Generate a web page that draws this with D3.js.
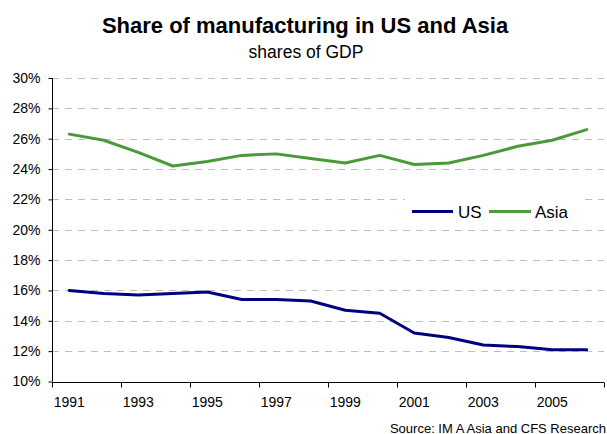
<!DOCTYPE html>
<html>
<head>
<meta charset="utf-8">
<script src="https://cdn.jsdelivr.net/npm/d3@7"></script>
<style>
  html, body { margin: 0; padding: 0; background: #fff; }
  svg { display: block; font-family: "Liberation Sans", Arial, sans-serif; }
</style>
</head>
<body>
<svg id="chart" width="607" height="434"></svg>
<script>
// Manufacturing value added as a share of GDP, 1991-2006
const years = [1991, 1992, 1993, 1994, 1995, 1996, 1997, 1998,
               1999, 2000, 2001, 2002, 2003, 2004, 2005, 2006];
const usShare =   [16.0, 15.8, 15.7, 15.8, 15.9, 15.4, 15.4, 15.3,
                   14.7, 14.5, 13.2, 12.9, 12.4, 12.3, 12.1, 12.1];
const asiaShare = [26.3, 25.9, 25.1, 24.2, 24.5, 24.9, 25.0, 24.7,
                   24.4, 24.9, 24.3, 24.4, 24.9, 25.5, 25.9, 26.6];
const yTicks = [10, 12, 14, 16, 18, 20, 22, 24, 26, 28, 30];
const xLabelYears = [1991, 1993, 1995, 1997, 1999, 2001, 2003, 2005];
const seriesNames = ["US", "Asia"];

const colors = { US: "#000080", Asia: "#4a9a3a" };
const series = [
  { name: seriesNames[0], values: usShare },
  { name: seriesNames[1], values: asiaShare }
];

const svg = d3.select("#chart");
const plot = { left: 52, right: 604, top: 78, bottom: 381.5 };

const x = d3.scaleBand().domain(years).range([plot.left, plot.right]).padding(0);
const y = d3.scaleLinear().domain([10, 30]).range([plot.bottom, plot.top]);

// Title block
svg.append("text")
  .attr("x", 305).attr("y", 32.5)
  .attr("text-anchor", "middle")
  .style("font-size", "22px").style("font-weight", "bold")
  .text("Share of manufacturing in US and Asia");
svg.append("text")
  .attr("x", 306).attr("y", 58)
  .attr("text-anchor", "middle")
  .style("font-size", "17.5px")
  .text("shares of GDP");

// Dashed horizontal gridlines
svg.append("g")
  .selectAll("line")
  .data(yTicks.filter(d => d > 10))
  .join("line")
  .attr("x1", plot.left).attr("x2", plot.right)
  .attr("y1", d => Math.round(y(d)) + 0.5).attr("y2", d => Math.round(y(d)) + 0.5)
  .attr("stroke", "#c0c0c0").attr("stroke-width", 1)
  .attr("stroke-dasharray", "7,6");

// Y axis
const yAxis = svg.append("g")
  .attr("transform", `translate(${plot.left + 0.5},0)`)
  .call(d3.axisLeft(y).tickValues(yTicks).tickSize(4).tickPadding(8)
        .tickFormat(d => d + "%"));
yAxis.select(".domain").attr("d", `M0,${plot.top}V${plot.bottom}`).attr("stroke", "#000");
yAxis.selectAll(".tick line").attr("stroke", "#000");
yAxis.selectAll(".tick text")
  .style("font-size", "14px").attr("fill", "#000")
  .attr("font-family", null);

// X axis: labels centred on every other year, tick marks between categories
const xAxis = svg.append("g")
  .attr("transform", `translate(0,${Math.round(plot.bottom) + 0.5})`)
  .call(d3.axisBottom(x).tickValues(xLabelYears).tickSize(0).tickPadding(15));
xAxis.select(".domain").attr("d", `M${plot.left},0H${plot.right}`).attr("stroke", "#000");
xAxis.selectAll(".tick text")
  .style("font-size", "14px").attr("fill", "#000")
  .attr("font-family", null);
const tickYears = years.filter((d, i) => i % 2 === 0);
xAxis.append("g")
  .selectAll("line")
  .data(tickYears.map(d => x(d)).concat([x.range()[1]]))
  .join("line")
  .attr("x1", d => Math.round(d) + 0.5).attr("x2", d => Math.round(d) + 0.5)
  .attr("y1", 0).attr("y2", 5)
  .attr("stroke", "#000");

// Series lines
const line = d3.line()
  .x((d, i) => x(years[i]) + x.bandwidth() / 2)
  .y(d => y(d));

svg.append("g")
  .selectAll("path")
  .data(series)
  .join("path")
  .attr("d", d => line(d.values))
  .attr("fill", "none")
  .attr("stroke", d => colors[d.name])
  .attr("stroke-width", 3)
  .attr("stroke-linejoin", "round")
  .attr("stroke-linecap", "round");

// Legend on a white box
const legend = svg.append("g");
legend.append("rect")
  .attr("x", 405).attr("y", 198).attr("width", 174).attr("height", 28)
  .attr("fill", "#fff");
const legendItems = [
  { name: seriesNames[0], x0: 412, x1: 453, tx: 458 },
  { name: seriesNames[1], x0: 489, x1: 531, tx: 535 }
];
legendItems.forEach(it => {
  legend.append("line")
    .attr("x1", it.x0).attr("x2", it.x1)
    .attr("y1", 211.5).attr("y2", 211.5)
    .attr("stroke", colors[it.name]).attr("stroke-width", 3);
  legend.append("text")
    .attr("x", it.tx).attr("y", 217.5)
    .style("font-size", "17px")
    .text(it.name);
});

// Source note
svg.append("text")
  .attr("x", 606).attr("y", 432.5)
  .attr("text-anchor", "end")
  .style("font-size", "13px")
  .text("Source: IM A Asia and CFS Research");
</script>
</body>
</html>
